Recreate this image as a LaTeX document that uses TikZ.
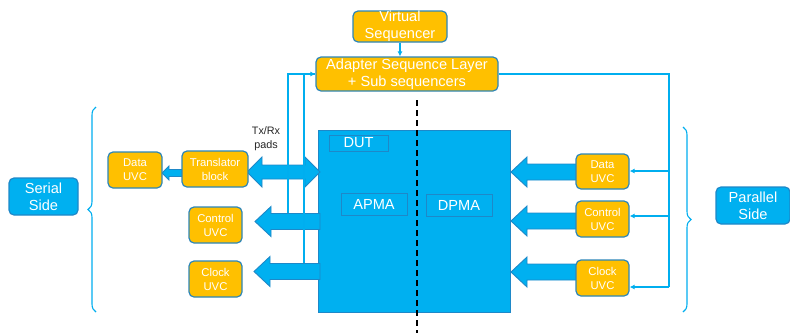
\documentclass[tikz,border=0pt]{standalone}
\usepackage{fontspec}
\setmainfont{Liberation Sans}
\usetikzlibrary{calc,arrows.meta,decorations.pathreplacing}
\definecolor{cyanfill}{HTML}{00B0F0}
\definecolor{cyanedge}{HTML}{1E88C8}
\definecolor{orangefill}{HTML}{FFC000}
\definecolor{orangeedge}{HTML}{2C86B9}
\definecolor{linecol}{HTML}{00AEEF}
\newcommand\mkfatarrow[5]{% tip, tail, head length, head half, shaft half
  \draw[fatarrow] (#1) -- ($(#1)+(#3,-#4)$) -- ($(#1)+(#3,-#5)$) -- ($(#2)+(0,-#5)$)
    -- ($(#2)+(0,#5)$) -- ($(#1)+(#3,#5)$) -- ($(#1)+(#3,#4)$) -- cycle;}
\tikzset{
  obox/.style={draw=orangeedge, line width=1.2pt, fill=orangefill, rounded corners=5pt,
    text=white, align=center, inner sep=0pt},
  bbox/.style={draw=cyanedge, line width=1.2pt, fill=cyanfill, rounded corners=5pt,
    text=white, align=center, inner sep=0pt},
  lbox/.style={draw=cyanedge, line width=1pt, fill=cyanfill, text=white, align=center, inner sep=0pt},
  bigtxt/.style={font=\fontsize{14.6}{16.8}\selectfont},
  smalltxt/.style={font=\fontsize{11.3}{14}\selectfont},
  fatarrow/.style={draw=cyanedge, line width=0.9pt, fill=cyanfill, line join=miter},
  conn/.style={draw=linecol, line width=1.3pt},
  tipped/.style={-{Latex[length=5pt,width=5pt]}},
  bracestyle/.style={draw=linecol, line width=1.1pt, decorate,
    decoration={brace, amplitude=8pt, aspect=0.5}},
}
\begin{document}
\begin{tikzpicture}[x=1pt,y=-1pt]
\useasboundingbox (0,0) rectangle (790,333);

% DUT
\node[lbox, minimum width=192pt, minimum height=182pt] (dut) at (414,221) {};
\node[lbox, bigtxt, minimum width=59pt, minimum height=16pt] (dutl) at (358.5,143) {DUT};
\node[lbox, bigtxt, minimum width=66pt, minimum height=22pt] (apma) at (374,204) {APMA};
\node[lbox, bigtxt, minimum width=66pt, minimum height=22pt] (dpma) at (459,205) {DPMA};

% arrow coordinates
\coordinate (lcT) at (255,221.5); \coordinate (lcS) at (320,221.5);
\coordinate (lkT) at (254,271.5); \coordinate (lkS) at (320,271.5);
\coordinate (rdT) at (511,172);   \coordinate (rdS) at (578,172);
\coordinate (rcT) at (511,221);   \coordinate (rcS) at (578,221);
\coordinate (rkT) at (511,272);   \coordinate (rkS) at (578,272);
\coordinate (txL) at (247,172);   \coordinate (txR) at (320,172);
\coordinate (smT) at (162,173);   \coordinate (smS) at (184,173);

\mkfatarrow{lcT}{lcS}{16}{15}{8}
\mkfatarrow{lkT}{lkS}{16}{15}{8}
\mkfatarrow{rdT}{rdS}{16}{15}{8}
\mkfatarrow{rcT}{rcS}{16}{15}{8}
\mkfatarrow{rkT}{rkS}{16}{15}{8}
\mkfatarrow{smT}{smS}{7}{7}{3.5}
\draw[fatarrow] (txL) -- ($(txL)+(15,-15)$) -- ($(txL)+(15,-7)$) -- ($(txR)+(-15,-7)$)
  -- ($(txR)+(-15,-15)$) -- (txR) -- ($(txR)+(-15,15)$) -- ($(txR)+(-15,7)$)
  -- ($(txL)+(15,7)$) -- ($(txL)+(15,15)$) -- cycle;

% top boxes
\node[obox, bigtxt, minimum width=94pt, minimum height=31pt] (vs) at (400,26.5) {Virtual\\Sequencer};
\node[obox, bigtxt, minimum width=182pt, minimum height=34pt] (adp) at (407,74) {Adapter Sequence Layer\\+ Sub sequencers};

% side labels
\node[bbox, bigtxt, minimum width=69pt, minimum height=37pt] (serial) at (43.5,196.5) {Serial\\Side};
\node[bbox, bigtxt, minimum width=74pt, minimum height=37pt] (parallel) at (753,205.5) {Parallel\\Side};

% left UVCs
\node[obox, smalltxt, minimum width=54pt, minimum height=36pt] (ldata) at (135,170) {Data\\UVC};
\node[obox, smalltxt, minimum width=66pt, minimum height=36pt] (trans) at (215,169) {Translator\\block};
\node[obox, smalltxt, minimum width=53pt, minimum height=36pt] (lctrl) at (215.5,225) {Control\\UVC};
\node[obox, smalltxt, minimum width=53pt, minimum height=36pt] (lclk) at (215.5,279) {Clock\\UVC};

% right UVCs
\node[obox, smalltxt, minimum width=53pt, minimum height=35pt] (rdata) at (602.5,171.5) {Data\\UVC};
\node[obox, smalltxt, minimum width=53pt, minimum height=36pt] (rctrl) at (602.5,219) {Control\\UVC};
\node[obox, smalltxt, minimum width=53pt, minimum height=36pt] (rclk) at (602.5,278) {Clock\\UVC};

% Tx/Rx label
\node[font=\fontsize{10.8}{14}\selectfont, text=black!85, align=center, inner sep=0pt] (txrx) at (266,139) {Tx/Rx\\pads};

% thin connectors
\coordinate (cl1) at (288,213);
\coordinate (cl2) at (304,263);
\draw[conn, tipped] (cl1) |- (adp.west);
\draw[conn] (cl2) |- (adp.west);
\draw[conn, tipped] (vs.south) -- (vs.south |- adp.north);

\coordinate (rj) at (669,287);
\coordinate (b1) at (669,171);
\coordinate (b2) at (669,216);
\draw[conn] (adp.east) -| (rj);
\draw[conn, tipped] (b1) -- (b1 -| rdata.east);
\draw[conn, tipped] (b2) -- (b2 -| rctrl.east);
\draw[conn, tipped] (rj) -- (rj -| rclk.east);

% dashed divider
\coordinate (dtop) at (417,100);
\coordinate (dbot) at (417,333);
\draw[black, line width=1.8pt, dash pattern=on 6pt off 4pt] (dtop) -- (dbot);

% braces
\coordinate (lbB) at (96,312); \coordinate (lbT) at (96,107);
\coordinate (rbT) at (683,127); \coordinate (rbB) at (683,312);
\draw[bracestyle] (lbB) -- (lbT);
\draw[bracestyle] (rbT) -- (rbB);
\end{tikzpicture}
\end{document}
